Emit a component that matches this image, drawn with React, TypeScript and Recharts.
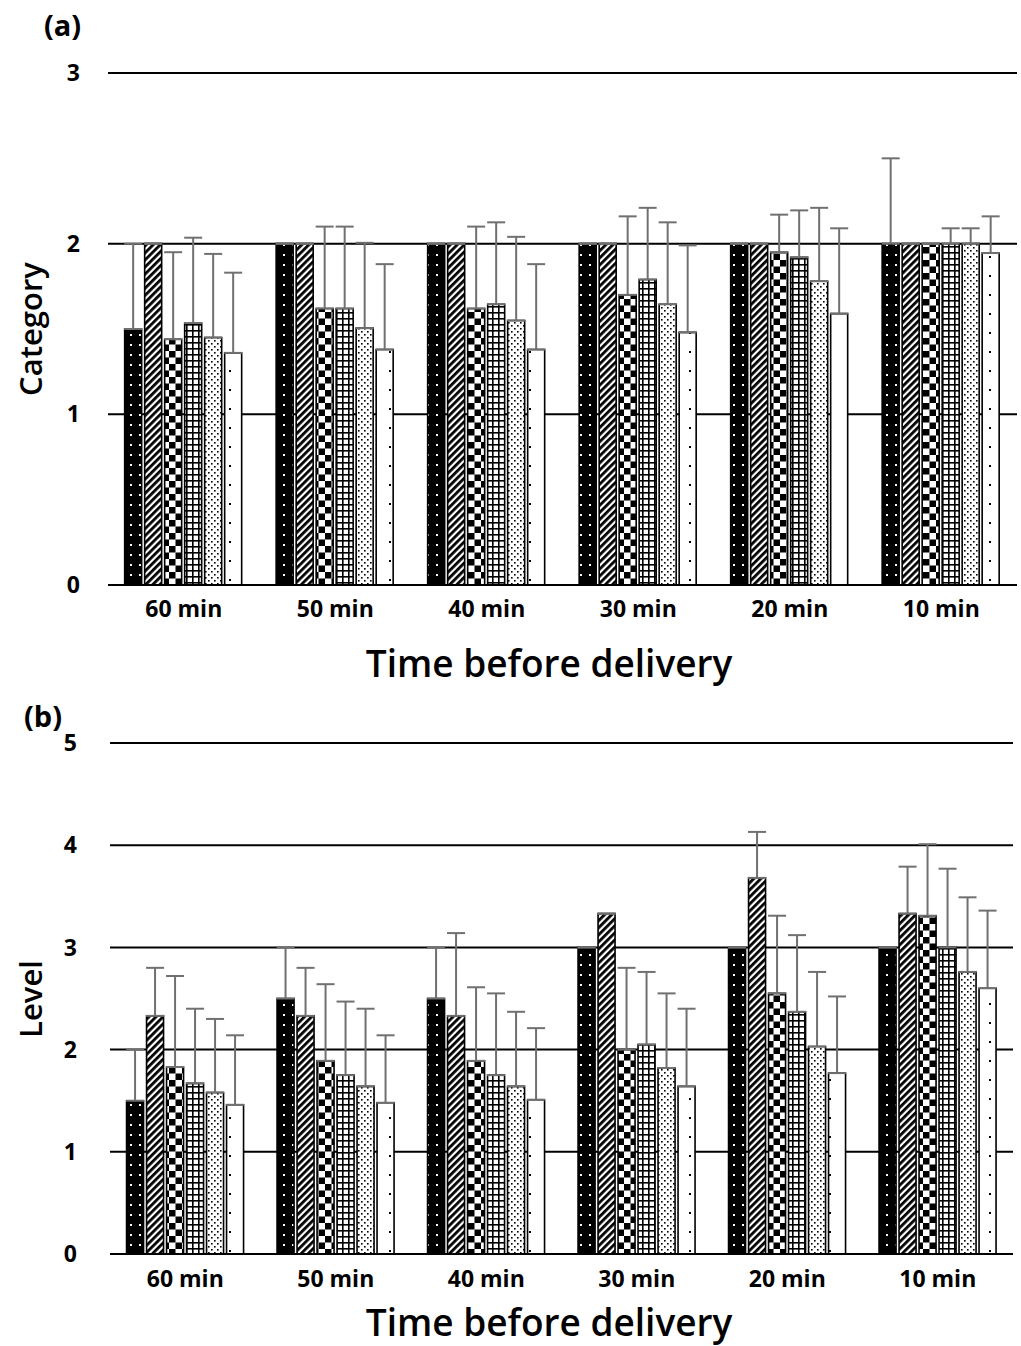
import React from 'react';
import { BarChart, Bar, XAxis, YAxis, CartesianGrid, ErrorBar } from 'recharts';

const times = ['60 min', '50 min', '40 min', '30 min', '20 min', '10 min'];

// (a) Category: means and upper error (SD)
const catMean1 = [1.5, 2, 2, 2, 2, 2];
const catErr1 = [0.5, 0, 0, 0, 0, 0.5];
const catMean2 = [2, 2, 2, 2, 2, 2];
const catErr2 = [0, 0, 0, 0, 0, 0];
const catMean3 = [1.44, 1.62, 1.62, 1.7, 1.95, 2];
const catErr3 = [0.51, 0.48, 0.48, 0.46, 0.22, 0];
const catMean4 = [1.535, 1.62, 1.645, 1.79, 1.92, 2];
const catErr4 = [0.5, 0.48, 0.48, 0.42, 0.275, 0.09];
const catMean5 = [1.45, 1.505, 1.55, 1.645, 1.78, 2];
const catErr5 = [0.49, 0.5, 0.49, 0.48, 0.43, 0.09];
const catMean6 = [1.36, 1.38, 1.38, 1.48, 1.59, 1.945];
const catErr6 = [0.47, 0.5, 0.5, 0.51, 0.5, 0.215];

// (b) Level
const lvlMean1 = [1.5, 2.5, 2.5, 3, 3, 3];
const lvlErr1 = [0.5, 0.5, 0.5, 0, 0, 0];
const lvlMean2 = [2.33, 2.33, 2.33, 3.33, 3.68, 3.33];
const lvlErr2 = [0.47, 0.47, 0.81, 0, 0.45, 0.46];
const lvlMean3 = [1.83, 1.89, 1.89, 2.0, 2.55, 3.31];
const lvlErr3 = [0.89, 0.75, 0.72, 0.8, 0.76, 0.7];
const lvlMean4 = [1.67, 1.75, 1.75, 2.05, 2.37, 3.0];
const lvlErr4 = [0.73, 0.72, 0.8, 0.71, 0.75, 0.77];
const lvlMean5 = [1.58, 1.64, 1.64, 1.82, 2.03, 2.76];
const lvlErr5 = [0.72, 0.76, 0.73, 0.73, 0.73, 0.73];
const lvlMean6 = [1.46, 1.48, 1.51, 1.64, 1.77, 2.6];
const lvlErr6 = [0.68, 0.66, 0.7, 0.76, 0.75, 0.76];

const catTicks = [0, 1, 2, 3];
const lvlTicks = [0, 1, 2, 3, 4, 5];

const patterns = ['pDark', 'pDiag', 'pCheck', 'pGrid', 'pDots', 'pWhite'];

const buildRows = (means: number[][], errs: number[][]) =>
  times.map((t, i) => {
    const row: any = { time: t };
    means.forEach((m, s) => {
      row['s' + s] = m[i];
      row['e' + s] = [0, errs[s][i]];
    });
    return row;
  });

const catData = buildRows(
  [catMean1, catMean2, catMean3, catMean4, catMean5, catMean6],
  [catErr1, catErr2, catErr3, catErr4, catErr5, catErr6]
);
const lvlData = buildRows(
  [lvlMean1, lvlMean2, lvlMean3, lvlMean4, lvlMean5, lvlMean6],
  [lvlErr1, lvlErr2, lvlErr3, lvlErr4, lvlErr5, lvlErr6]
);

const font = '"Open Sans", "Noto Sans", sans-serif';
const tickStyle = { fontSize: 23, fontWeight: 700, fill: '#000', fontFamily: font };

const Patterns = () => (
  <svg width={0} height={0} style={{ position: 'absolute' }}>
    <defs>
      <pattern id="pDark" width={9} height={10} patternUnits="userSpaceOnUse">
        <rect width={9} height={10} fill="#000" />
        <rect x={4} y={4} width={2} height={2} fill="#fff" />
      </pattern>
      <pattern id="pDiag" width={5} height={5} patternUnits="userSpaceOnUse" patternTransform="rotate(45)">
        <rect width={5} height={5} fill="#fff" />
        <rect width={2.8} height={5} fill="#000" />
      </pattern>
      <pattern id="pCheck" width={13} height={13} patternUnits="userSpaceOnUse">
        <rect width={13} height={13} fill="#fff" />
        <rect width={6.5} height={6.5} fill="#000" />
        <rect x={6.5} y={6.5} width={6.5} height={6.5} fill="#000" />
      </pattern>
      <pattern id="pGrid" width={6} height={6} patternUnits="userSpaceOnUse">
        <rect width={6} height={6} fill="#fff" />
        <rect width={1.6} height={6} fill="#000" />
        <rect width={6} height={1.6} fill="#000" />
      </pattern>
      <pattern id="pDots" width={6} height={6} patternUnits="userSpaceOnUse">
        <rect width={6} height={6} fill="#fff" />
        <rect x={1} y={1} width={1.6} height={1.6} fill="#000" />
        <rect x={4} y={4} width={1.6} height={1.6} fill="#000" />
      </pattern>
      <pattern id="pWhite" width={20} height={19} patternUnits="userSpaceOnUse">
        <rect width={20} height={19} fill="#fff" />
        <rect x={9} y={9} width={2} height={2} fill="#000" />
      </pattern>
    </defs>
  </svg>
);

const renderBars = () =>
  patterns.map((p, s) => (
    <Bar
      key={p}
      dataKey={'s' + s}
      fill={`url(#${p})`}
      stroke="#000"
      strokeWidth={1.6}
      isAnimationActive={false}
    >
      <ErrorBar dataKey={'e' + s} width={9} stroke="#707070" strokeWidth={2} direction="y" />
    </Bar>
  ));

const titleStyle: React.CSSProperties = {
  position: 'absolute',
  fontFamily: font,
  fontSize: 37,
  fontWeight: 600,
  color: '#000',
  whiteSpace: 'nowrap',
  lineHeight: 1,
};

const App = () => (
  <div style={{ position: 'absolute', left: 0, top: 0, width: 1021, height: 1346, background: '#fff' }}>
    <Patterns />
    <div style={{ position: 'absolute', left: 0, top: 0 }}>
      <BarChart
        width={1021}
        height={690}
        data={catData}
        margin={{ top: 73, right: 4, bottom: 0, left: 0 }}
        barCategoryGap="11%"
        barGap={3}
      >
        <CartesianGrid vertical={false} stroke="#000" strokeWidth={2} />
        <XAxis
          dataKey="time"
          height={105}
          tickLine={false}
          axisLine={{ stroke: '#000', strokeWidth: 2 }}
          tick={tickStyle}
          tickMargin={10}
        />
        <YAxis
          width={108}
          domain={[0, 3]}
          ticks={catTicks}
          axisLine={false}
          tickLine={false}
          tickMargin={22}
          tick={tickStyle}
        />
        {renderBars()}
      </BarChart>
    </div>
    <div style={{ position: 'absolute', left: 0, top: 690 }}>
      <BarChart
        width={1021}
        height={656}
        data={lvlData}
        margin={{ top: 53, right: 8, bottom: 0, left: 0 }}
        barCategoryGap="11%"
        barGap={3}
      >
        <CartesianGrid vertical={false} stroke="#000" strokeWidth={2} />
        <XAxis
          dataKey="time"
          height={92}
          tickLine={false}
          axisLine={{ stroke: '#000', strokeWidth: 2 }}
          tick={tickStyle}
          tickMargin={11}
        />
        <YAxis
          width={110}
          domain={[0, 5]}
          ticks={lvlTicks}
          axisLine={false}
          tickLine={false}
          tickMargin={27}
          tick={tickStyle}
        />
        {renderBars()}
      </BarChart>
    </div>

    <div style={{ ...titleStyle, left: 44, top: 10, fontSize: 29, fontWeight: 700 }}>(a)</div>
    <div style={{ ...titleStyle, left: 24, top: 701, fontSize: 29, fontWeight: 700 }}>(b)</div>

    <div style={{ ...titleStyle, left: 549, top: 662, transform: 'translate(-50%, -50%)' }}>
      Time before delivery
    </div>
    <div style={{ ...titleStyle, left: 549, top: 1321, transform: 'translate(-50%, -50%)' }}>
      Time before delivery
    </div>
    <div
      style={{ ...titleStyle, fontSize: 31, left: 30, top: 329, transform: 'translate(-50%, -50%) rotate(-90deg)' }}
    >
      Category
    </div>
    <div
      style={{ ...titleStyle, fontSize: 31, left: 30, top: 999, transform: 'translate(-50%, -50%) rotate(-90deg)' }}
    >
      Level
    </div>
  </div>
);

export default App;
